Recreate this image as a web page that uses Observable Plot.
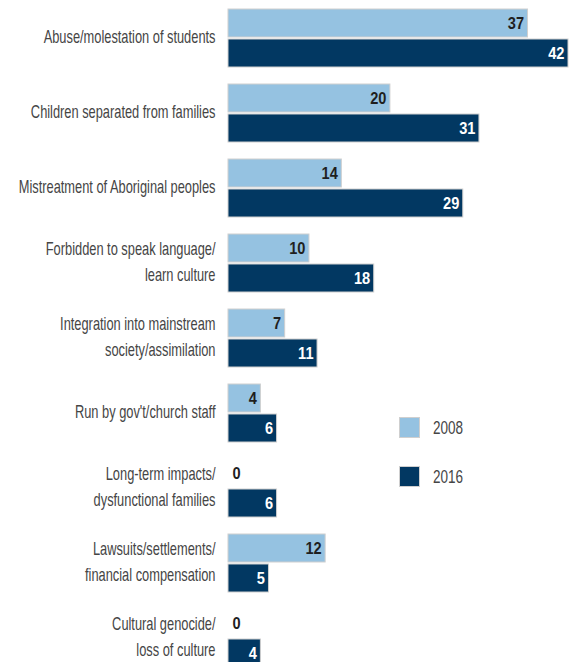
<!DOCTYPE html>
<html>
<head>
<meta charset="utf-8">
<script src="https://cdn.jsdelivr.net/npm/d3@7"></script>
<script src="https://cdn.jsdelivr.net/npm/@observablehq/plot@0.6"></script>
<style>
  html, body { margin: 0; padding: 0; background: #fff; overflow: hidden; }
  #wrap { position: relative; width: 569px; height: 662px; }
  .legend { position: absolute; font-family: "Liberation Sans", Arial, sans-serif; font-size: 18.5px; color: #454545; }
  .legend .sw { position: absolute; width: 21px; height: 21px; box-sizing: border-box; border: 1px solid #cfcfcf; }
  .legend .lb { position: absolute; white-space: nowrap; line-height: 21px; transform: scaleX(0.73); transform-origin: 0 50%; }
</style>
</head>
<body>
<div id="wrap"></div>
<script>
const categories = [
  "Abuse/molestation of students",
  "Children separated from families",
  "Mistreatment of Aboriginal peoples",
  "Forbidden to speak language/\nlearn culture",
  "Integration into mainstream\nsociety/assimilation",
  "Run by gov't/church staff",
  "Long-term impacts/\ndysfunctional families",
  "Lawsuits/settlements/\nfinancial compensation",
  "Cultural genocide/\nloss of culture"
];
const years = ["2008", "2016"];
const values2008 = [37, 20, 14, 10, 7, 4, 0, 12, 0];
const values2016 = [42, 31, 29, 18, 11, 6, 6, 5, 4];
const colors = ["#95c2e1", "#023862"];
const labelColors = ["#1f1f1f", "#ffffff"];

const data = [];
categories.forEach((c, i) => {
  data.push({cat: c, year: years[0], value: values2008[i]});
  data.push({cat: c, year: years[1], value: values2016[i]});
});

const font = '"Liberation Sans", Arial, sans-serif';

const chart = Plot.plot({
  width: 569,
  height: 668,
  marginLeft: 228,
  marginRight: 1,
  marginTop: 9,
  marginBottom: 1,
  style: {fontFamily: font, background: "#fff"},
  x: {domain: [0, 42], axis: null},
  y: {domain: years, axis: null, paddingInner: 2 / 30, paddingOuter: 0},
  fy: {domain: categories, paddingInner: 17 / 75, paddingOuter: 0, label: null},
  color: {domain: years, range: colors},
  marks: [
    Plot.axisFy({anchor: "left", tickSize: 0, tickPadding: 13, fontSize: 18.5, lineHeight: 1.405, fill: "#454545", label: null, dy: -3.5}),
    Plot.barX(data.filter(d => d.value > 0), {x: "value", y: "year", fy: "cat", fill: "year", stroke: "#cfcfcf", strokeWidth: 1}),
    Plot.ruleX(data.filter(d => d.value === 0), {x: "value", y: "year", fy: "cat", stroke: "#d0d0d0", strokeWidth: 1.2}),
    Plot.text(data.filter(d => d.value > 0), {
      x: "value", y: "year", fy: "cat", text: d => String(d.value),
      textAnchor: "end", dx: -4, fontWeight: "bold", fontSize: 17,
      fill: d => labelColors[years.indexOf(d.year)]
    }),
    Plot.text(data.filter(d => d.value === 0), {
      x: "value", y: "year", fy: "cat", text: d => String(d.value),
      textAnchor: "start", dx: 4, fontWeight: "bold", fontSize: 17, fill: labelColors[0]
    })
  ]
});

// condense text horizontally (the reference uses a condensed typeface)
function condense(el, s) {
  const t = el.getAttribute("transform") || "";
  el.setAttribute("transform", `${t} scale(${s},1)`);
}
chart.querySelectorAll('g[aria-label="fy-axis tick label"] text').forEach(el => condense(el, 0.694));
chart.querySelectorAll('g[aria-label="text"] text').forEach(el => condense(el, 0.86));

const wrap = document.getElementById("wrap");
wrap.appendChild(chart);

const legend = document.createElement("div");
legend.className = "legend";
legend.style.left = "0px";
legend.style.top = "0px";
const legendTops = [417, 466];
years.forEach((y, i) => {
  const sw = document.createElement("div");
  sw.className = "sw";
  sw.style.left = "399px";
  sw.style.top = legendTops[i] + "px";
  sw.style.background = colors[i];
  const lb = document.createElement("div");
  lb.className = "lb";
  lb.style.left = "433px";
  lb.style.top = legendTops[i] + "px";
  lb.textContent = y;
  legend.appendChild(sw);
  legend.appendChild(lb);
});
wrap.appendChild(legend);
</script>
</body>
</html>
